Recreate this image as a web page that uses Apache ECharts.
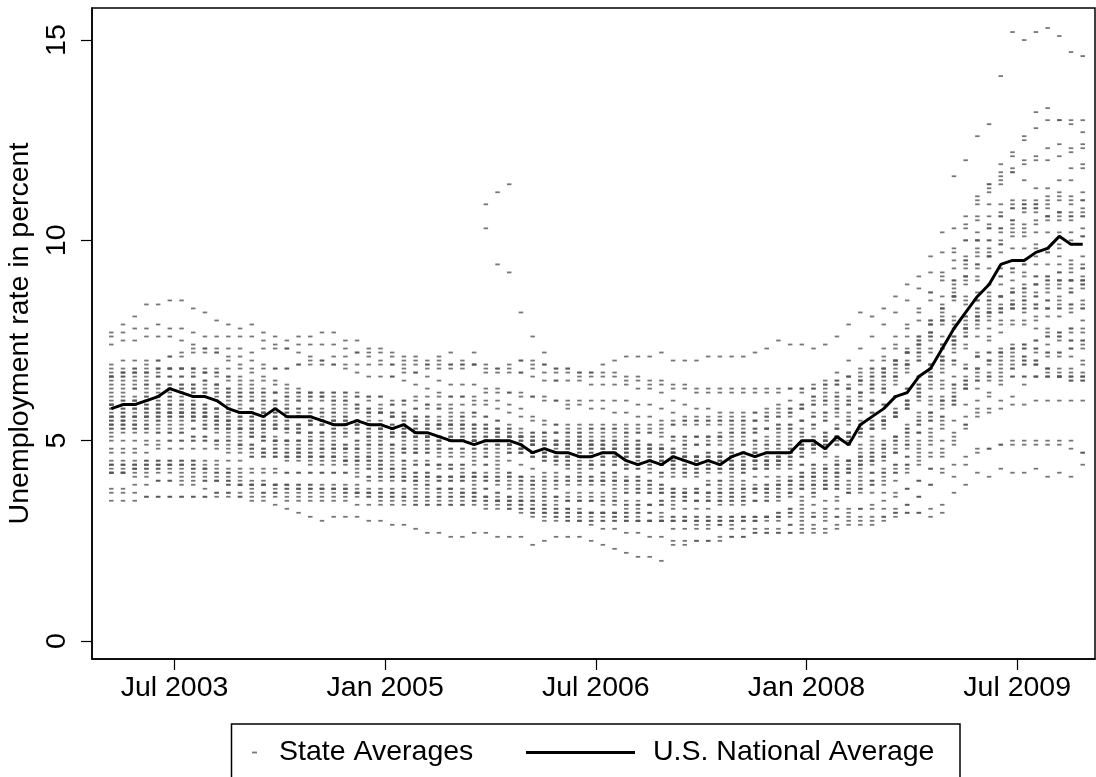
<!DOCTYPE html>
<html><head><meta charset="utf-8">
<script src="https://cdn.jsdelivr.net/npm/echarts@6/dist/echarts.min.js"></script>
<style>html,body{margin:0;padding:0;background:#fff}#c{width:1096px;height:777px}</style>
</head><body><div id="c"></div>
<script>
// Months Jan 2003 .. Dec 2009
const monthNames = ['Jan','Feb','Mar','Apr','May','Jun','Jul','Aug','Sep','Oct','Nov','Dec'];
const years = [2003,2004,2005,2006,2007,2008,2009];
const months = [];
years.forEach(y => monthNames.forEach(m => months.push(m + ' ' + y)));
const tickLabels = ['Jul 2003','Jan 2005','Jul 2006','Jan 2008','Jul 2009'];
const yTicks = [0, 5, 10, 15];

const national = [
5.8,5.9,5.9,6.0,6.1,6.3,6.2,6.1,6.1,6.0,5.8,5.7,
5.7,5.6,5.8,5.6,5.6,5.6,5.5,5.4,5.4,5.5,5.4,5.4,
5.3,5.4,5.2,5.2,5.1,5.0,5.0,4.9,5.0,5.0,5.0,4.9,
4.7,4.8,4.7,4.7,4.6,4.6,4.7,4.7,4.5,4.4,4.5,4.4,
4.6,4.5,4.4,4.5,4.4,4.6,4.7,4.6,4.7,4.7,4.7,5.0,
5.0,4.8,5.1,4.9,5.4,5.6,5.8,6.1,6.2,6.6,6.8,7.3,
7.8,8.2,8.6,8.9,9.4,9.5,9.5,9.7,9.8,10.1,9.9,9.9];

const AL = [
5.9,5.9,5.9,6.0,6.0,6.0,6.0,5.9,5.9,5.8,5.8,5.7,
5.7,5.7,5.6,5.6,5.6,5.6,5.5,5.5,5.4,5.3,5.2,5.0,
4.9,4.8,4.7,4.5,4.4,4.3,4.2,4.2,4.4,4.4,4.2,4.0,
3.8,3.7,3.6,3.5,3.5,3.5,3.5,3.5,3.4,3.4,3.4,3.4,
3.4,3.5,3.5,3.5,3.5,3.6,3.6,3.7,3.7,3.8,3.9,4.0,
4.1,4.2,4.4,4.5,4.8,5.1,5.4,5.7,6.0,6.4,6.8,7.3,
7.9,8.5,9.1,9.6,10.0,10.2,10.3,10.4,10.5,10.7,10.7,10.8];
const AK = [
7.6,7.7,7.8,7.8,7.9,7.8,7.8,7.7,7.6,7.6,7.6,7.6,
7.9,7.7,7.6,7.5,7.6,7.6,7.7,7.7,7.5,7.5,7.3,7.3,
7.2,7.1,7.1,7.0,7.0,6.9,6.9,6.9,6.8,6.8,6.7,6.7,
6.8,6.7,6.7,6.7,6.6,6.6,6.6,6.6,6.5,6.5,6.4,6.4,
6.3,6.3,6.2,6.2,6.2,6.2,6.2,6.2,6.2,6.2,6.3,6.3,
6.4,6.5,6.5,6.6,6.6,6.7,6.8,6.8,6.9,7.0,7.2,7.4,
7.6,7.8,8.0,8.2,8.4,8.5,8.5,8.4,8.3,8.3,8.4,8.5];
const AZ = [
5.8,5.8,5.8,5.8,5.8,5.7,5.7,5.6,5.5,5.4,5.3,5.2,
5.1,5.1,5.0,5.0,5.0,5.0,5.0,4.9,4.8,4.8,4.8,4.7,
4.7,4.7,4.7,4.7,4.6,4.6,4.6,4.6,4.6,4.5,4.5,4.4,
4.3,4.2,4.2,4.1,4.1,4.0,4.0,4.0,4.0,3.9,3.9,3.9,
3.8,3.7,3.7,3.7,3.7,3.7,3.8,3.8,3.9,3.9,4.0,4.2,
4.4,4.6,4.9,5.1,5.4,5.7,5.9,6.1,6.3,6.6,6.9,7.3,
7.8,8.1,8.5,8.6,8.9,9.0,9.1,9.1,9.1,9.2,9.3,9.3];
const AR = [
5.9,5.9,6.0,6.0,6.1,6.1,6.2,6.2,6.2,6.2,6.1,6.1,
6.0,5.9,5.8,5.7,5.6,5.5,5.5,5.5,5.5,5.4,5.4,5.3,
5.3,5.2,5.1,5.1,5.0,5.0,5.0,5.0,5.1,5.1,5.1,5.1,
5.1,5.2,5.2,5.2,5.2,5.3,5.3,5.3,5.3,5.3,5.3,5.3,
5.4,5.4,5.4,5.4,5.4,5.4,5.3,5.3,5.3,5.3,5.3,5.2,
5.1,5.0,4.9,4.9,4.9,4.9,5.0,5.1,5.3,5.5,5.7,6.0,
6.3,6.6,6.8,7.0,7.1,7.3,7.4,7.5,7.6,7.7,7.8,7.8];
const CA = [
6.8,6.8,6.8,6.8,6.8,6.8,6.8,6.7,6.7,6.7,6.6,6.6,
6.5,6.5,6.4,6.3,6.2,6.2,6.1,6.0,6.0,5.9,5.8,5.7,
5.6,5.5,5.5,5.4,5.4,5.4,5.3,5.2,5.1,5.0,5.0,4.9,
4.9,4.9,4.9,4.9,4.9,4.9,4.8,4.8,4.8,4.8,4.9,4.9,
5.0,5.0,5.1,5.1,5.2,5.3,5.4,5.5,5.6,5.7,5.8,5.9,
6.1,6.2,6.4,6.6,6.8,7.0,7.3,7.6,7.9,8.3,8.7,9.1,
9.7,10.3,10.9,11.2,11.5,11.7,12.0,12.1,12.3,12.4,12.3,12.4];
const CO = [
5.9,6.0,6.0,6.1,6.1,6.2,6.2,6.2,6.1,6.0,5.9,5.8,
5.8,5.7,5.7,5.6,5.6,5.5,5.5,5.5,5.5,5.5,5.4,5.4,
5.3,5.3,5.2,5.1,5.1,5.0,5.0,5.0,5.0,5.0,4.9,4.8,
4.7,4.6,4.5,4.4,4.3,4.3,4.2,4.2,4.1,4.1,4.0,3.9,
3.8,3.7,3.7,3.7,3.7,3.7,3.7,3.8,3.8,3.9,4.0,4.1,
4.2,4.3,4.4,4.5,4.6,4.8,4.9,5.1,5.3,5.6,6.0,6.4,
6.9,7.3,7.6,7.8,7.9,8.0,7.9,7.8,7.7,7.6,7.7,7.7];
const CT = [
5.3,5.4,5.4,5.5,5.5,5.6,5.6,5.6,5.6,5.5,5.5,5.4,
5.3,5.2,5.0,4.9,4.8,4.8,4.8,4.8,4.8,4.8,4.9,4.9,
4.9,4.9,4.9,4.9,4.9,5.0,5.0,5.0,5.0,4.9,4.8,4.7,
4.6,4.5,4.5,4.4,4.4,4.4,4.4,4.4,4.4,4.4,4.5,4.5,
4.5,4.5,4.5,4.5,4.6,4.6,4.7,4.7,4.7,4.8,4.8,4.9,
5.0,5.2,5.3,5.4,5.5,5.7,5.9,6.1,6.3,6.6,6.9,7.1,
7.5,7.8,8.1,8.2,8.3,8.4,8.4,8.4,8.5,8.6,8.7,8.9];
const DE = [
4.2,4.2,4.3,4.3,4.3,4.3,4.2,4.2,4.1,4.0,4.0,3.9,
3.9,3.9,3.9,3.9,3.9,3.9,3.9,3.9,3.9,3.9,4.0,4.0,
4.0,4.0,4.0,4.1,4.1,4.1,4.1,4.1,4.0,4.0,3.9,3.8,
3.7,3.6,3.6,3.5,3.5,3.5,3.5,3.5,3.5,3.5,3.4,3.4,
3.3,3.3,3.3,3.3,3.4,3.4,3.4,3.5,3.5,3.6,3.7,3.8,
3.9,4.0,4.2,4.3,4.5,4.7,4.9,5.1,5.4,5.7,6.1,6.5,
7.0,7.4,7.8,8.0,8.2,8.3,8.3,8.3,8.3,8.5,8.7,8.8];
const DC = [
6.9,7.0,7.0,7.0,7.0,7.1,7.1,7.2,7.2,7.3,7.3,7.3,
7.2,7.3,7.3,7.3,7.4,7.4,7.4,7.4,7.3,7.2,7.1,7.0,
6.9,6.8,6.7,6.6,6.5,6.4,6.4,6.4,6.3,6.3,6.2,6.2,
6.1,6.1,6.0,6.0,6.0,6.0,6.0,6.0,6.0,5.9,5.9,5.8,
5.7,5.6,5.6,5.5,5.5,5.5,5.5,5.5,5.6,5.6,5.7,5.8,
5.9,6.0,6.1,6.3,6.5,6.6,6.8,7.0,7.2,7.4,7.7,8.1,
8.6,9.1,9.7,10.0,10.3,10.5,10.8,11.0,11.3,11.5,11.8,11.9];
const FL = [
5.4,5.4,5.3,5.3,5.2,5.2,5.2,5.1,5.1,5.0,5.0,4.9,
4.9,4.8,4.8,4.7,4.7,4.6,4.6,4.6,4.5,4.5,4.4,4.3,
4.2,4.1,4.0,3.9,3.8,3.8,3.7,3.7,3.6,3.5,3.5,3.4,
3.3,3.2,3.2,3.2,3.2,3.2,3.2,3.2,3.3,3.3,3.4,3.5,
3.6,3.7,3.8,3.9,4.0,4.1,4.2,4.3,4.4,4.5,4.6,4.8,
4.9,5.1,5.3,5.5,5.7,5.9,6.2,6.5,6.8,7.1,7.5,7.9,
8.6,9.0,9.6,9.8,10.2,10.5,10.7,10.8,11.0,11.2,11.5,11.8];
const GA = [
4.7,4.7,4.7,4.7,4.8,4.8,4.8,4.8,4.8,4.8,4.7,4.7,
4.6,4.6,4.6,4.6,4.7,4.7,4.8,4.8,4.9,5.0,5.1,5.2,
5.2,5.3,5.3,5.3,5.3,5.3,5.3,5.3,5.3,5.2,5.1,5.0,
4.9,4.8,4.7,4.6,4.6,4.5,4.5,4.5,4.5,4.4,4.4,4.4,
4.4,4.4,4.4,4.4,4.4,4.4,4.4,4.5,4.5,4.6,4.7,4.9,
5.0,5.2,5.4,5.6,5.8,6.0,6.3,6.6,6.9,7.2,7.6,8.0,
8.6,9.1,9.4,9.7,9.9,10.1,10.1,10.2,10.2,10.2,10.2,10.3];
const HI = [
4.2,4.2,4.1,4.1,4.0,4.0,3.9,3.9,3.8,3.7,3.7,3.6,
3.5,3.5,3.4,3.3,3.2,3.1,3.0,3.1,3.1,3.1,3.0,3.0,
2.9,2.9,2.8,2.7,2.7,2.6,2.6,2.7,2.7,2.6,2.6,2.6,
2.4,2.5,2.6,2.6,2.6,2.5,2.4,2.3,2.2,2.1,2.1,2.0,
2.4,2.4,2.5,2.5,2.5,2.6,2.6,2.7,2.7,2.8,2.9,3.0,
3.1,3.3,3.5,3.7,3.9,4.0,4.2,4.4,4.6,4.9,5.2,5.6,
6.1,6.5,6.8,7.0,7.2,7.3,7.3,7.3,7.2,7.1,7.1,7.0];
const ID = [
5.4,5.4,5.4,5.4,5.4,5.4,5.4,5.3,5.3,5.2,5.1,5.0,
4.9,4.8,4.8,4.7,4.7,4.6,4.6,4.6,4.5,4.4,4.3,4.2,
4.1,4.0,3.9,3.9,3.8,3.8,3.7,3.7,3.6,3.6,3.5,3.5,
3.5,3.4,3.4,3.3,3.3,3.2,3.2,3.1,3.1,3.0,3.0,3.0,
2.8,2.8,2.8,2.8,2.9,2.9,3.0,3.0,3.1,3.2,3.3,3.5,
3.7,3.9,4.1,4.4,4.7,5.0,5.3,5.6,5.9,6.2,6.6,7.0,
7.4,7.8,8.1,8.3,8.6,8.8,8.9,8.9,8.9,9.0,9.0,9.0];
const IL = [
6.6,6.6,6.7,6.7,6.8,6.8,6.8,6.8,6.7,6.6,6.5,6.4,
6.3,6.2,6.2,6.1,6.1,6.1,6.2,6.2,6.2,6.1,6.0,5.9,
5.9,5.9,5.8,5.8,5.8,5.8,5.7,5.7,5.6,5.5,5.3,5.1,
4.9,4.7,4.6,4.5,4.5,4.4,4.4,4.4,4.4,4.4,4.5,4.6,
4.7,4.8,4.9,5.0,5.1,5.2,5.2,5.3,5.3,5.4,5.4,5.5,
5.6,5.7,5.9,6.0,6.2,6.4,6.7,7.0,7.2,7.4,7.7,8.0,
8.5,8.9,9.3,9.6,9.9,10.3,10.4,10.5,10.6,10.7,10.9,11.0];
const IN = [
5.1,5.2,5.2,5.3,5.3,5.3,5.3,5.3,5.3,5.3,5.3,5.3,
5.3,5.3,5.3,5.3,5.3,5.4,5.4,5.4,5.4,5.4,5.4,5.4,
5.4,5.4,5.4,5.4,5.4,5.4,5.4,5.4,5.4,5.3,5.2,5.1,
5.0,5.0,5.0,4.9,4.9,4.9,4.9,4.9,4.9,4.9,4.8,4.8,
4.7,4.6,4.6,4.5,4.5,4.4,4.4,4.5,4.5,4.6,4.7,4.8,
4.9,5.1,5.3,5.5,5.8,6.0,6.3,6.6,6.9,7.3,7.7,8.2,
8.8,9.4,9.8,10.0,10.3,10.4,10.2,9.9,9.7,9.6,9.5,9.6];
const IA = [
4.4,4.4,4.4,4.5,4.5,4.5,4.5,4.5,4.5,4.5,4.5,4.5,
4.6,4.6,4.6,4.6,4.6,4.6,4.6,4.6,4.6,4.6,4.5,4.5,
4.5,4.5,4.4,4.4,4.3,4.3,4.3,4.2,4.2,4.2,4.1,4.0,
3.9,3.8,3.8,3.7,3.7,3.7,3.7,3.7,3.7,3.7,3.7,3.7,
3.7,3.7,3.7,3.7,3.8,3.8,3.8,3.8,3.8,3.9,3.9,3.9,
3.9,3.9,3.9,3.9,4.0,4.0,4.1,4.2,4.3,4.5,4.6,4.8,
5.1,5.4,5.7,5.8,6.0,6.1,6.4,6.6,6.6,6.6,6.6,6.6];
const KS = [
5.5,5.5,5.6,5.6,5.6,5.6,5.6,5.6,5.6,5.6,5.6,5.6,
5.6,5.6,5.6,5.6,5.6,5.5,5.5,5.5,5.5,5.4,5.3,5.3,
5.2,5.2,5.2,5.1,5.1,5.1,5.0,5.0,5.0,5.0,4.9,4.8,
4.7,4.6,4.5,4.5,4.4,4.4,4.4,4.4,4.3,4.3,4.3,4.2,
4.1,4.1,4.1,4.0,4.0,4.0,4.0,4.1,4.1,4.1,4.1,4.1,
4.1,4.2,4.3,4.3,4.4,4.5,4.6,4.7,4.8,5.0,5.3,5.6,
6.0,6.3,6.6,6.7,6.9,7.0,7.0,6.9,6.8,6.6,6.5,6.5];
const KY = [
6.2,6.2,6.3,6.3,6.3,6.3,6.3,6.3,6.2,6.1,6.0,5.9,
5.6,5.5,5.4,5.3,5.2,5.2,5.2,5.3,5.4,5.5,5.6,5.7,
5.9,6.0,6.1,6.1,6.1,6.1,6.1,6.1,6.2,6.2,6.2,6.1,
6.1,6.0,6.0,5.9,5.9,5.8,5.8,5.7,5.7,5.6,5.6,5.5,
5.5,5.5,5.5,5.5,5.5,5.5,5.5,5.5,5.5,5.6,5.7,5.8,
5.9,6.0,6.0,6.1,6.2,6.3,6.5,6.7,6.9,7.2,7.6,8.0,
8.6,9.3,10.0,10.3,10.6,10.8,10.9,10.9,10.8,10.7,10.6,10.6];
const LA = [
6.6,6.6,6.6,6.6,6.6,6.6,6.6,6.6,6.5,6.4,6.3,6.2,
6.1,6.0,5.9,5.8,5.7,5.7,5.7,5.7,5.7,5.7,5.7,5.7,
5.7,5.7,5.8,5.9,5.8,5.7,5.6,5.7,10.9,11.2,11.4,8.2,
7.6,7.2,6.5,5.8,5.1,4.4,4.0,3.8,3.8,3.8,3.7,3.7,
3.7,3.7,3.7,3.7,3.7,3.8,3.8,3.8,3.8,3.8,3.8,3.9,
4.0,4.1,4.2,4.3,4.4,4.5,4.6,4.8,5.0,5.2,5.5,5.8,
6.1,6.3,6.5,6.6,6.7,6.8,6.9,7.0,7.1,7.2,7.3,7.3];
const ME = [
5.0,5.0,5.0,5.0,5.0,5.0,5.0,5.0,5.0,5.0,4.9,4.9,
4.8,4.7,4.7,4.6,4.6,4.5,4.5,4.5,4.5,4.5,4.6,4.6,
4.7,4.7,4.8,4.8,4.8,4.8,4.8,4.8,4.8,4.8,4.7,4.7,
4.6,4.6,4.6,4.6,4.6,4.6,4.6,4.6,4.6,4.6,4.6,4.6,
4.6,4.6,4.6,4.7,4.7,4.7,4.7,4.7,4.7,4.7,4.8,4.9,
5.0,5.0,5.1,5.2,5.2,5.3,5.4,5.6,5.8,6.1,6.5,6.9,
7.4,7.8,8.1,8.2,8.3,8.3,8.3,8.3,8.3,8.3,8.4,8.4];
const MD = [
4.5,4.5,4.5,4.5,4.5,4.5,4.5,4.5,4.4,4.4,4.3,4.3,
4.3,4.3,4.3,4.2,4.2,4.2,4.2,4.2,4.2,4.1,4.1,4.1,
4.1,4.1,4.1,4.1,4.1,4.1,4.1,4.1,4.1,4.0,4.0,3.9,
3.9,3.9,3.9,3.9,3.9,3.9,3.9,3.9,3.9,3.8,3.8,3.7,
3.6,3.6,3.5,3.5,3.5,3.5,3.5,3.5,3.6,3.6,3.7,3.8,
3.9,4.0,4.1,4.2,4.3,4.4,4.5,4.7,4.9,5.2,5.5,5.9,
6.4,6.8,7.1,7.2,7.3,7.4,7.3,7.2,7.2,7.2,7.3,7.5];
const MA = [
5.6,5.7,5.8,5.8,5.9,5.9,5.9,5.9,5.8,5.8,5.7,5.6,
5.5,5.4,5.3,5.2,5.2,5.1,5.1,5.1,5.1,5.0,5.0,4.9,
4.9,4.8,4.8,4.8,4.8,4.8,4.8,4.8,4.8,4.9,4.9,5.0,
5.0,5.0,5.0,5.0,5.0,5.0,5.0,5.0,5.0,5.0,4.9,4.8,
4.6,4.5,4.4,4.4,4.4,4.4,4.4,4.5,4.5,4.6,4.7,4.8,
4.9,5.0,5.1,5.2,5.3,5.4,5.5,5.7,5.9,6.3,6.6,7.0,
7.5,7.9,8.2,8.4,8.6,8.7,8.8,8.9,9.0,9.0,9.0,9.0];
const MI = [
6.6,6.7,6.8,6.9,7.0,7.1,7.2,7.3,7.3,7.2,7.1,7.1,
7.0,6.9,6.8,6.8,6.9,7.0,7.0,7.1,7.1,7.2,7.2,7.2,
7.1,7.0,7.0,6.9,7.1,7.2,7.0,7.2,6.7,6.7,6.9,7.0,
7.0,6.9,6.8,6.8,6.7,6.7,6.9,7.0,7.1,7.1,7.1,7.2,
7.0,7.0,7.0,7.1,7.1,7.1,7.1,7.2,7.3,7.5,7.4,7.4,
7.3,7.4,7.6,7.9,8.2,8.1,8.3,8.6,8.9,9.1,9.6,10.2,
11.6,12.0,12.6,12.9,14.1,15.2,15.0,15.2,15.3,15.1,14.7,14.6];
const MN = [
4.8,4.8,4.8,4.9,4.9,5.0,5.0,5.0,5.0,4.9,4.8,4.8,
4.7,4.7,4.7,4.6,4.6,4.6,4.6,4.6,4.5,4.5,4.5,4.4,
4.3,4.3,4.2,4.2,4.1,4.1,4.1,4.1,4.1,4.1,4.1,4.1,
4.0,4.0,4.0,4.0,4.0,4.0,4.0,4.0,4.0,4.1,4.2,4.2,
4.3,4.4,4.5,4.5,4.6,4.6,4.7,4.7,4.7,4.7,4.7,4.8,
4.9,5.0,5.1,5.2,5.3,5.4,5.5,5.6,5.8,6.0,6.3,6.7,
7.2,7.6,8.0,8.2,8.3,8.4,8.2,8.0,7.8,7.6,7.5,7.4];
const MS = [
6.4,6.4,6.4,6.4,6.4,6.4,6.4,6.4,6.3,6.3,6.2,6.2,
6.2,6.2,6.2,6.2,6.2,6.2,6.2,6.2,6.2,6.2,6.1,6.1,
6.6,6.7,6.7,6.8,6.8,6.8,6.8,6.9,10.3,9.4,9.2,7.0,
6.9,6.9,6.8,6.8,6.7,6.7,6.7,6.7,6.6,6.6,6.5,6.5,
6.4,6.4,6.3,6.3,6.3,6.3,6.3,6.3,6.3,6.3,6.3,6.3,
6.3,6.3,6.4,6.4,6.5,6.6,6.8,7.0,7.3,7.6,7.9,8.3,
8.7,9.1,9.4,9.6,9.7,9.8,9.8,9.8,9.8,9.9,10.0,10.1];
const MO = [
5.4,5.5,5.5,5.6,5.6,5.7,5.7,5.7,5.7,5.7,5.7,5.7,
5.7,5.8,5.8,5.8,5.8,5.8,5.8,5.8,5.8,5.8,5.7,5.7,
5.6,5.6,5.5,5.5,5.4,5.4,5.4,5.4,5.3,5.3,5.2,5.1,
5.0,4.9,4.9,4.8,4.8,4.8,4.8,4.8,4.8,4.8,4.8,4.8,
4.8,4.9,4.9,4.9,5.0,5.0,5.0,5.0,5.0,5.1,5.2,5.3,
5.4,5.5,5.6,5.7,5.8,6.0,6.2,6.4,6.7,7.0,7.3,7.6,
8.0,8.4,8.7,8.9,9.1,9.3,9.4,9.4,9.4,9.4,9.4,9.4];
const MT = [
4.4,4.4,4.4,4.4,4.4,4.4,4.3,4.3,4.3,4.2,4.2,4.2,
4.2,4.2,4.2,4.2,4.2,4.2,4.2,4.2,4.2,4.2,4.1,4.1,
4.1,4.1,4.0,4.0,4.0,4.0,4.0,4.0,4.0,3.9,3.8,3.7,
3.5,3.4,3.3,3.3,3.2,3.2,3.2,3.2,3.2,3.2,3.2,3.2,
3.1,3.1,3.1,3.1,3.1,3.1,3.1,3.1,3.1,3.2,3.3,3.4,
3.6,3.8,4.0,4.2,4.4,4.6,4.8,5.0,5.2,5.4,5.7,6.0,
6.2,6.4,6.5,6.5,6.6,6.6,6.6,6.6,6.6,6.6,6.7,6.7];
const NE = [
3.8,3.8,3.9,3.9,4.0,4.0,4.0,4.0,4.0,4.0,3.9,3.9,
3.9,3.9,3.9,3.9,3.9,3.9,3.8,3.8,3.8,3.8,3.8,3.8,
3.8,3.8,3.8,3.8,3.8,3.8,3.8,3.8,3.8,3.7,3.6,3.5,
3.3,3.2,3.1,3.0,3.0,3.0,3.0,3.0,3.0,3.0,3.0,3.0,
3.0,3.0,3.0,3.0,3.0,3.0,3.1,3.1,3.1,3.1,3.2,3.2,
3.2,3.2,3.3,3.3,3.3,3.3,3.3,3.3,3.4,3.6,3.9,4.2,
4.4,4.6,4.8,4.8,4.9,5.0,5.0,5.0,5.0,5.0,5.0,4.7];
const NV = [
5.3,5.3,5.3,5.2,5.2,5.2,5.2,5.1,5.1,5.0,5.0,4.9,
4.8,4.7,4.6,4.5,4.5,4.4,4.4,4.4,4.4,4.3,4.3,4.3,
4.3,4.3,4.2,4.2,4.1,4.1,4.1,4.1,4.1,4.1,4.1,4.1,
4.1,4.1,4.1,4.1,4.1,4.1,4.2,4.2,4.3,4.3,4.4,4.5,
4.5,4.6,4.6,4.7,4.7,4.8,4.9,5.0,5.1,5.2,5.3,5.5,
5.7,5.9,6.1,6.3,6.5,6.8,7.1,7.4,7.8,8.2,8.7,9.2,
9.5,10.0,10.5,10.9,11.4,12.1,12.5,13.2,13.3,13.0,13.0,13.0];
const NH = [
4.2,4.2,4.3,4.3,4.3,4.4,4.4,4.4,4.3,4.3,4.2,4.1,
4.0,4.0,3.9,3.9,3.8,3.8,3.8,3.8,3.8,3.7,3.7,3.6,
3.6,3.6,3.6,3.6,3.6,3.6,3.6,3.6,3.6,3.5,3.5,3.5,
3.5,3.5,3.5,3.5,3.5,3.5,3.4,3.4,3.4,3.4,3.4,3.5,
3.5,3.5,3.5,3.6,3.6,3.6,3.6,3.7,3.7,3.7,3.7,3.8,
3.8,3.8,3.8,3.8,3.8,3.9,3.9,4.0,4.2,4.4,4.7,5.0,
5.5,5.9,6.3,6.6,6.8,6.9,6.9,6.9,6.8,6.8,6.8,6.9];
const NJ = [
5.8,5.8,5.9,5.9,5.9,5.9,5.9,5.8,5.7,5.6,5.5,5.3,
5.1,5.0,4.9,4.8,4.8,4.7,4.7,4.7,4.7,4.6,4.6,4.5,
4.4,4.4,4.4,4.4,4.4,4.4,4.4,4.5,4.6,4.6,4.7,4.7,
4.7,4.7,4.7,4.7,4.7,4.7,4.7,4.7,4.7,4.6,4.5,4.4,
4.3,4.2,4.2,4.2,4.2,4.2,4.2,4.3,4.3,4.4,4.5,4.6,
4.8,4.9,5.1,5.2,5.3,5.5,5.6,5.8,6.0,6.3,6.7,7.1,
7.6,8.1,8.5,8.7,9.1,9.2,9.4,9.6,9.7,9.8,9.9,10.1];
const NM = [
5.9,5.9,5.9,5.9,5.9,5.9,5.9,5.9,5.8,5.8,5.8,5.7,
5.7,5.7,5.7,5.7,5.6,5.6,5.6,5.6,5.6,5.5,5.4,5.3,
5.3,5.2,5.2,5.1,5.1,5.1,5.1,5.1,5.0,5.0,4.9,4.8,
4.6,4.5,4.4,4.3,4.2,4.1,4.1,4.1,4.0,4.0,3.9,3.8,
3.7,3.6,3.5,3.5,3.5,3.5,3.5,3.5,3.5,3.5,3.6,3.6,
3.7,3.8,3.9,4.0,4.1,4.2,4.3,4.4,4.6,4.8,5.1,5.5,
5.9,6.3,6.7,7.0,7.2,7.3,7.4,7.5,7.6,7.7,7.8,8.0];
const NY = [
6.3,6.3,6.3,6.4,6.4,6.4,6.4,6.4,6.4,6.4,6.3,6.3,
6.2,6.1,6.0,5.9,5.8,5.8,5.7,5.7,5.6,5.5,5.4,5.3,
5.2,5.1,5.1,5.0,5.0,5.0,5.0,5.0,4.9,4.9,4.9,4.8,
4.7,4.6,4.6,4.6,4.6,4.6,4.6,4.6,4.6,4.6,4.6,4.5,
4.5,4.5,4.5,4.5,4.5,4.5,4.5,4.5,4.6,4.6,4.7,4.8,
4.9,5.0,5.1,5.1,5.2,5.3,5.5,5.7,5.9,6.2,6.6,7.0,
7.5,8.0,8.3,8.5,8.6,8.7,8.8,8.9,9.0,9.0,9.0,9.0];
const NC = [
6.5,6.5,6.5,6.5,6.6,6.6,6.6,6.6,6.5,6.4,6.2,6.0,
5.8,5.7,5.6,5.5,5.4,5.4,5.4,5.4,5.4,5.4,5.4,5.4,
5.4,5.4,5.3,5.3,5.3,5.2,5.2,5.2,5.2,5.2,5.1,5.0,
4.9,4.8,4.8,4.8,4.8,4.8,4.8,4.8,4.8,4.7,4.7,4.6,
4.6,4.6,4.6,4.6,4.6,4.7,4.7,4.7,4.8,4.9,5.0,5.1,
5.3,5.5,5.7,5.9,6.1,6.3,6.6,6.9,7.2,7.6,8.0,8.4,
9.0,9.6,10.2,10.6,10.9,11.0,11.0,10.9,10.9,11.0,11.1,11.2];
const ND = [
3.7,3.7,3.7,3.6,3.6,3.6,3.6,3.6,3.6,3.6,3.6,3.6,
3.6,3.6,3.6,3.5,3.5,3.5,3.5,3.5,3.5,3.4,3.4,3.4,
3.4,3.4,3.4,3.4,3.4,3.4,3.4,3.4,3.3,3.3,3.3,3.3,
3.2,3.2,3.2,3.2,3.2,3.2,3.2,3.2,3.2,3.2,3.2,3.1,
3.1,3.1,3.1,3.1,3.1,3.1,3.1,3.1,3.1,3.1,3.1,3.1,
3.1,3.1,3.1,3.1,3.1,3.1,3.1,3.2,3.2,3.2,3.3,3.4,
3.7,3.9,4.2,4.1,4.3,4.2,4.2,4.3,4.1,4.2,4.1,4.4];
const OH = [
6.1,6.1,6.1,6.2,6.2,6.3,6.3,6.3,6.2,6.2,6.1,6.1,
6.0,6.0,6.0,6.0,6.0,6.1,6.1,6.1,6.1,6.1,6.1,6.1,
6.0,6.0,6.0,5.9,5.9,5.9,5.9,5.9,5.9,5.8,5.7,5.6,
5.5,5.4,5.4,5.4,5.4,5.4,5.4,5.4,5.4,5.4,5.4,5.4,
5.4,5.5,5.5,5.6,5.6,5.6,5.6,5.7,5.7,5.8,5.8,5.9,
6.0,6.1,6.2,6.3,6.4,6.5,6.7,7.0,7.2,7.5,7.9,8.3,
9.0,9.5,10.0,10.3,10.6,10.9,10.9,10.8,10.6,10.5,10.5,10.6];
const OK = [
5.6,5.6,5.7,5.7,5.7,5.7,5.7,5.6,5.6,5.5,5.4,5.3,
5.2,5.1,5.0,5.0,4.9,4.9,4.8,4.8,4.8,4.8,4.7,4.7,
4.6,4.5,4.5,4.4,4.4,4.4,4.4,4.4,4.4,4.3,4.2,4.1,
4.0,4.0,4.0,4.0,4.0,4.0,4.0,4.0,4.0,4.0,4.0,4.1,
4.2,4.2,4.2,4.3,4.3,4.3,4.4,4.4,4.4,4.4,4.3,4.2,
4.1,3.9,3.8,3.7,3.7,3.7,3.7,3.7,3.8,4.0,4.3,4.7,
5.2,5.6,6.0,6.2,6.4,6.6,6.6,6.6,6.6,6.6,6.6,6.6];
const OR = [
7.7,7.9,8.1,8.4,8.4,8.5,8.5,8.3,8.2,8.0,7.9,7.8,
7.6,7.5,7.4,7.3,7.2,7.1,7.0,6.9,6.8,6.7,6.6,6.6,
6.6,6.5,6.4,6.3,6.2,6.1,6.1,6.0,6.0,6.0,5.9,5.8,
5.6,5.5,5.4,5.3,5.3,5.3,5.3,5.3,5.2,5.2,5.2,5.1,
5.1,5.1,5.1,5.1,5.1,5.2,5.2,5.2,5.3,5.3,5.4,5.5,
5.6,5.7,5.8,5.9,6.0,6.2,6.4,6.6,7.0,7.4,8.0,8.6,
9.3,10.0,10.6,11.3,11.6,11.7,11.5,11.3,11.1,11.1,11.0,11.0];
const PA = [
5.6,5.6,5.6,5.7,5.7,5.7,5.7,5.7,5.6,5.6,5.5,5.5,
5.5,5.5,5.5,5.5,5.4,5.4,5.4,5.3,5.3,5.3,5.3,5.3,
5.2,5.2,5.1,5.1,5.0,5.0,5.0,5.0,5.0,5.0,4.9,4.8,
4.7,4.7,4.6,4.6,4.6,4.6,4.6,4.6,4.6,4.5,4.5,4.4,
4.4,4.3,4.3,4.3,4.3,4.3,4.3,4.3,4.4,4.5,4.6,4.7,
4.8,4.9,5.0,5.1,5.2,5.3,5.5,5.6,5.8,6.1,6.4,6.8,
7.3,7.7,7.9,8.1,8.2,8.4,8.5,8.6,8.7,8.8,8.8,8.9];
const RI = [
5.2,5.3,5.4,5.4,5.5,5.5,5.5,5.5,5.4,5.4,5.3,5.3,
5.3,5.3,5.3,5.3,5.2,5.2,5.2,5.2,5.2,5.2,5.1,5.1,
5.1,5.1,5.1,5.1,5.1,5.1,5.1,5.1,5.1,5.1,5.1,5.1,
5.2,5.2,5.2,5.2,5.2,5.2,5.2,5.2,5.2,5.2,5.2,5.2,
5.1,5.1,5.1,5.1,5.1,5.1,5.1,5.2,5.3,5.4,5.6,5.8,
6.1,6.4,6.7,7.0,7.3,7.6,7.9,8.2,8.5,8.8,9.2,9.7,
10.3,10.6,11.1,11.4,11.9,12.2,12.6,12.8,13.0,13.0,12.9,12.7];
const SC = [
6.7,6.7,6.7,6.7,6.7,6.8,6.8,6.8,6.8,6.8,6.8,6.8,
6.8,6.8,6.8,6.8,6.9,6.9,6.9,6.9,6.9,6.9,6.9,6.9,
6.9,6.9,6.9,6.9,6.9,6.9,6.9,6.9,6.9,6.8,6.8,6.7,
6.6,6.5,6.5,6.5,6.5,6.4,6.4,6.4,6.4,6.3,6.3,6.2,
6.0,5.9,5.8,5.8,5.7,5.7,5.7,5.7,5.8,5.9,6.0,6.2,
6.3,6.4,6.5,6.6,6.7,6.8,7.0,7.3,7.6,8.0,8.5,9.0,
9.8,10.4,11.0,11.4,11.7,11.8,11.9,12.0,12.0,12.1,12.2,12.3];
const SD = [
3.5,3.5,3.5,3.6,3.6,3.6,3.6,3.6,3.6,3.7,3.7,3.7,
3.7,3.7,3.7,3.7,3.7,3.7,3.7,3.7,3.7,3.7,3.7,3.7,
3.7,3.7,3.7,3.7,3.7,3.7,3.7,3.7,3.6,3.5,3.4,3.3,
3.2,3.1,3.1,3.1,3.1,3.1,3.1,3.1,3.0,3.0,3.0,3.0,
3.0,3.0,2.9,2.9,2.9,2.8,2.8,2.8,2.8,2.7,2.7,2.7,
2.7,2.7,2.8,2.9,2.9,2.9,3.0,3.1,3.2,3.2,3.1,3.2,
4.1,4.4,4.7,4.8,4.9,4.9,4.9,4.9,4.9,4.9,4.8,4.7];
const TN = [
5.7,5.7,5.8,5.8,5.8,5.8,5.8,5.8,5.7,5.6,5.5,5.5,
5.4,5.4,5.4,5.4,5.4,5.4,5.4,5.4,5.4,5.5,5.5,5.5,
5.6,5.6,5.6,5.6,5.6,5.6,5.6,5.6,5.6,5.5,5.4,5.3,
5.2,5.2,5.2,5.1,5.1,5.1,5.1,5.1,5.1,5.0,4.9,4.8,
4.7,4.6,4.6,4.6,4.6,4.6,4.7,4.8,4.9,5.0,5.1,5.2,
5.4,5.6,5.8,6.0,6.2,6.4,6.6,6.9,7.2,7.5,7.9,8.3,
8.9,9.5,10.0,10.4,10.7,10.8,10.8,10.7,10.6,10.6,10.6,10.7];
const TX = [
6.6,6.7,6.7,6.7,6.8,6.8,6.8,6.8,6.7,6.7,6.6,6.5,
6.4,6.3,6.2,6.1,6.0,6.0,6.0,5.9,5.9,5.8,5.7,5.7,
5.6,5.5,5.5,5.4,5.4,5.4,5.4,5.3,5.3,5.2,5.1,5.1,
5.0,5.0,4.9,4.9,4.9,4.9,4.9,4.8,4.7,4.6,4.5,4.4,
4.4,4.3,4.3,4.3,4.3,4.3,4.3,4.3,4.3,4.3,4.4,4.4,
4.4,4.4,4.5,4.5,4.6,4.6,4.7,4.9,5.1,5.4,5.7,6.0,
6.4,6.8,7.2,7.5,7.7,7.9,8.0,8.1,8.1,8.1,8.2,8.3];
const UT = [
5.6,5.6,5.6,5.6,5.6,5.6,5.6,5.5,5.4,5.3,5.2,5.1,
5.1,5.0,5.0,5.0,5.0,5.0,4.9,4.9,4.8,4.7,4.6,4.4,
4.3,4.2,4.1,4.1,4.0,4.0,4.0,3.9,3.8,3.7,3.6,3.5,
3.4,3.3,3.2,3.1,3.0,2.9,2.8,2.8,2.7,2.7,2.6,2.6,
2.5,2.5,2.5,2.5,2.6,2.6,2.6,2.7,2.7,2.7,2.7,2.8,
2.9,3.0,3.1,3.2,3.3,3.4,3.5,3.6,3.8,4.0,4.3,4.6,
5.0,5.3,5.6,5.7,5.8,5.9,5.9,6.0,6.0,6.0,6.0,6.0];
const VT = [
4.3,4.3,4.3,4.4,4.4,4.4,4.4,4.3,4.2,4.1,4.0,3.9,
3.8,3.7,3.7,3.6,3.6,3.6,3.6,3.6,3.6,3.6,3.6,3.5,
3.5,3.5,3.4,3.4,3.4,3.4,3.4,3.5,3.5,3.5,3.6,3.6,
3.6,3.6,3.6,3.6,3.6,3.6,3.6,3.6,3.7,3.7,3.7,3.8,
3.8,3.8,3.8,3.9,3.9,3.9,3.9,3.9,3.9,4.0,4.0,4.1,
4.2,4.3,4.4,4.5,4.6,4.7,4.8,5.0,5.2,5.5,5.9,6.3,
6.6,6.9,7.1,7.2,7.2,7.2,7.0,6.9,6.7,6.6,6.5,6.5];
const VA = [
4.2,4.2,4.2,4.2,4.2,4.2,4.1,4.1,4.0,4.0,3.9,3.9,
3.9,3.9,3.9,3.8,3.8,3.8,3.8,3.8,3.7,3.7,3.6,3.6,
3.6,3.6,3.5,3.5,3.5,3.5,3.5,3.5,3.4,3.4,3.3,3.2,
3.1,3.0,3.0,3.0,3.0,3.0,3.0,3.0,3.0,3.0,3.0,3.0,
3.0,3.0,3.0,3.0,3.0,3.0,3.0,3.0,3.1,3.1,3.2,3.3,
3.4,3.5,3.6,3.7,3.8,3.9,4.0,4.2,4.4,4.7,5.0,5.4,
6.0,6.4,6.8,6.9,7.0,7.1,7.1,7.0,6.8,6.7,6.6,6.6];
const WA = [
7.4,7.5,7.5,7.6,7.6,7.6,7.5,7.4,7.3,7.2,7.0,6.9,
6.7,6.6,6.5,6.4,6.3,6.2,6.1,6.0,6.0,5.9,5.8,5.8,
5.7,5.7,5.6,5.6,5.5,5.5,5.5,5.4,5.4,5.3,5.3,5.2,
5.1,5.1,5.0,5.0,5.0,5.0,5.0,5.0,4.9,4.9,4.8,4.8,
4.7,4.6,4.6,4.5,4.5,4.5,4.5,4.5,4.5,4.5,4.6,4.6,
4.7,4.8,4.9,5.0,5.1,5.3,5.5,5.7,6.0,6.4,6.9,7.4,
8.1,8.6,9.0,9.3,9.3,9.3,9.2,9.1,9.1,9.2,9.2,9.3];
const WV = [
6.0,6.0,6.0,6.1,6.1,6.1,6.1,6.0,5.9,5.8,5.7,5.6,
5.5,5.4,5.4,5.3,5.3,5.2,5.2,5.2,5.2,5.2,5.1,5.1,
5.1,5.0,5.0,5.0,5.0,5.0,5.0,5.0,5.0,5.0,4.9,4.9,
4.9,4.9,4.9,4.9,4.9,4.9,4.9,4.9,4.9,4.8,4.8,4.7,
4.7,4.7,4.6,4.6,4.6,4.6,4.6,4.6,4.5,4.5,4.4,4.4,
4.3,4.3,4.2,4.2,4.2,4.2,4.2,4.3,4.4,4.6,4.9,5.3,
5.9,6.5,7.1,7.6,8.0,8.3,8.6,8.7,8.8,8.9,9.0,9.1];
const WI = [
5.5,5.5,5.6,5.6,5.7,5.7,5.7,5.7,5.6,5.5,5.4,5.3,
5.2,5.1,5.1,5.0,5.0,5.0,5.0,5.0,4.9,4.9,4.9,4.8,
4.8,4.8,4.7,4.7,4.7,4.7,4.7,4.7,4.7,4.7,4.7,4.7,
4.7,4.7,4.7,4.7,4.7,4.7,4.7,4.7,4.7,4.7,4.7,4.8,
4.8,4.9,4.9,4.9,4.9,4.9,4.9,4.9,4.9,4.9,4.9,4.9,
4.8,4.7,4.6,4.5,4.5,4.5,4.6,4.7,4.9,5.2,5.6,6.1,
7.0,7.6,8.3,8.5,8.6,8.7,8.7,8.6,8.5,8.4,8.3,8.3];
const WY = [
4.4,4.4,4.4,4.4,4.4,4.4,4.4,4.4,4.3,4.2,4.1,4.0,
3.9,3.9,3.8,3.8,3.8,3.8,3.8,3.8,3.8,3.7,3.7,3.7,
3.7,3.6,3.6,3.6,3.6,3.6,3.6,3.6,3.5,3.5,3.4,3.4,
3.3,3.3,3.3,3.3,3.2,3.2,3.2,3.2,3.1,3.1,3.0,3.0,
3.0,3.0,3.0,3.0,3.0,3.0,3.0,3.0,3.0,3.0,2.9,2.9,
2.8,2.8,2.9,3.0,3.0,3.0,3.1,3.2,3.4,3.6,3.9,4.3,
4.9,5.4,5.8,6.1,6.5,6.8,7.1,7.3,7.4,7.5,7.5,7.5];

const states = [AL,AK,AZ,AR,CA,CO,CT,DE,DC,FL,GA,HI,ID,IL,IN,IA,KS,KY,LA,ME,MD,MA,MI,MN,MS,MO,MT,NE,NV,NH,NJ,NM,NY,NC,ND,OH,OK,OR,PA,RI,SC,SD,TN,TX,UT,VT,VA,WA,WV,WI,WY];

// position of each monthly observation on the month scale (mid-month), ticks at month start
const OFFSET = 0.6;
const stateData = [];
states.forEach(s => s.forEach((v, i) => stateData.push([i + OFFSET, v])));
const nationalData = national.map((v, i) => [i + OFFSET, v]);
const tickPos = tickLabels.map(l => months.indexOf(l));

const FONT = "'Liberation Sans', Arial, Helvetica, sans-serif";
const FS = 28.5;
const chart = echarts.init(document.getElementById('c'), null, {renderer: 'canvas'});
chart.setOption({
  animation: false,
  backgroundColor: '#fff',
  grid: {left: 92, right: 1, top: 8, bottom: 118, show: true, borderColor: '#000', borderWidth: 1.5,
    backgroundColor: 'transparent', containLabel: false, outerBoundsMode: 'none'},
  xAxis: {
    type: 'value', min: -1.05, max: 84.65,
    axisLine: {show: true, onZero: false, lineStyle: {color: '#000', width: 1.5}},
    splitLine: {show: false},
    axisTick: {show: true, length: 11, customValues: tickPos, lineStyle: {color: '#000', width: 1.2}},
    axisLabel: {customValues: tickPos, formatter: v => tickLabels[tickPos.indexOf(Math.round(v))] || '',
      fontSize: FS, color: '#000', margin: 15, fontFamily: FONT}
  },
  yAxis: {
    type: 'value', min: -0.45, max: 15.8,
    axisLine: {show: true, onZero: false, lineStyle: {color: '#000', width: 1.5}},
    splitLine: {show: false},
    axisTick: {show: true, length: 11, customValues: yTicks, lineStyle: {color: '#000', width: 1.2}},
    axisLabel: {customValues: yTicks, rotate: 90, fontSize: FS, color: '#000', margin: 20, fontFamily: FONT},
    name: 'Unemployment rate in percent', nameLocation: 'middle', nameGap: 53,
    nameTextStyle: {fontSize: FS, color: '#000', fontFamily: FONT}
  },
  legend: [
    {data: ['State Averages'], left: 247, top: 733, icon: 'rect', itemWidth: 5, itemHeight: 1.8,
     selectedMode: false, itemStyle: {color: '#555'},
     textStyle: {fontSize: FS, color: '#000', fontFamily: FONT, padding: [0, 0, 0, 17]}},
    {data: [{name: 'U.S. National Average', icon: 'rect'}], left: 521, top: 733, itemWidth: 109, itemHeight: 3,
     selectedMode: false, itemStyle: {color: '#000'},
     textStyle: {fontSize: FS, color: '#000', fontFamily: FONT, padding: [0, 0, 0, 13]}}
  ],
  graphic: [{type: 'rect', silent: true, shape: {x: 231.5, y: 724, width: 728.5, height: 80},
    style: {fill: 'none', stroke: '#000', lineWidth: 1.5}}],
  series: [
    {type: 'scatter', name: 'State Averages', symbol: 'rect', symbolSize: [4.5, 1.8],
     itemStyle: {color: '#555'}, data: stateData, z: 2, silent: true},
    {type: 'line', name: 'U.S. National Average', data: nationalData, symbol: 'none', showSymbol: false,
     lineStyle: {color: '#000', width: 3}, itemStyle: {color: '#000'}, z: 3, silent: true}
  ]
});
</script></body></html>
